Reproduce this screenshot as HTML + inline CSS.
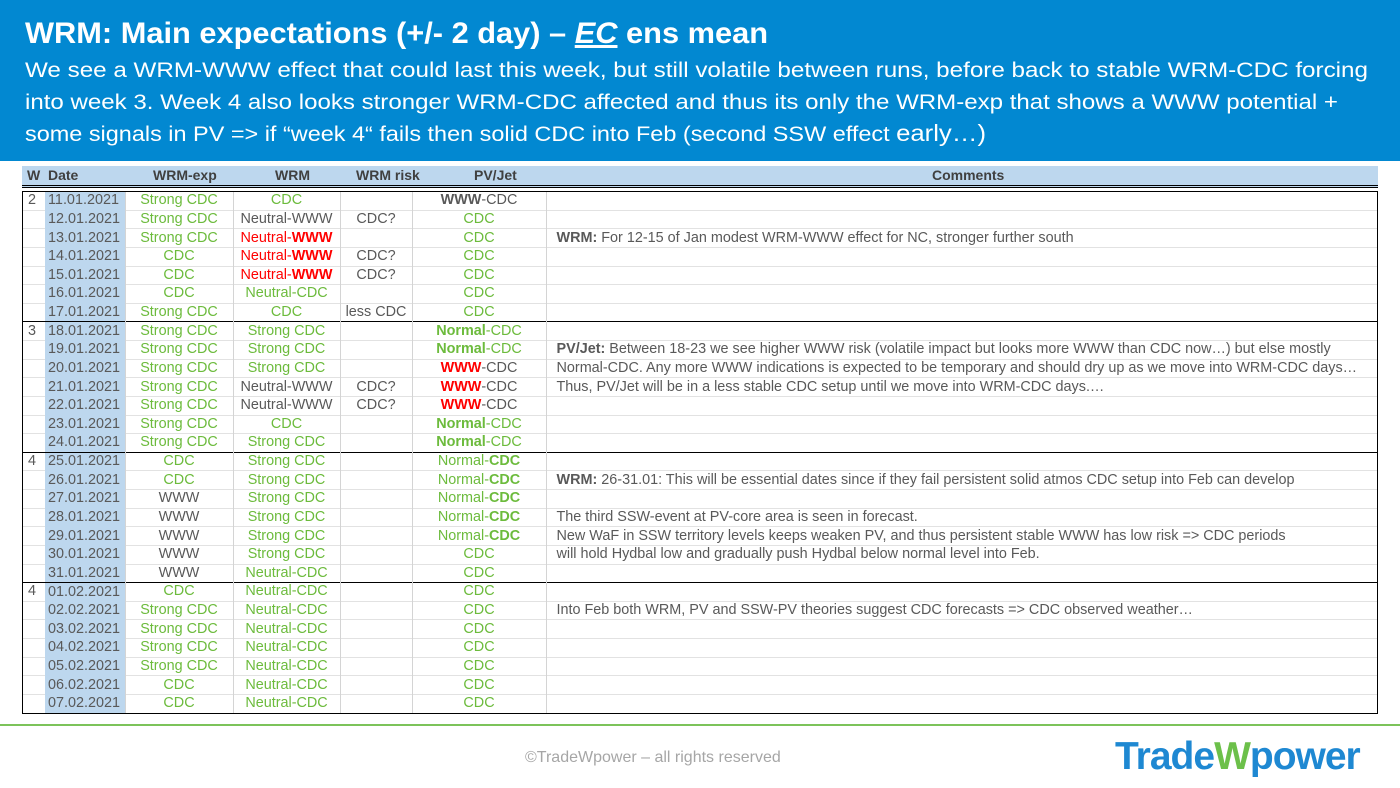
<!DOCTYPE html>
<html><head><meta charset="utf-8"><style>
body{margin:0;width:1400px;height:788px;background:#fff;position:relative;overflow:hidden;font-family:"Liberation Sans",Arial,sans-serif}
.hdr{position:absolute;left:0;top:0;width:1400px;height:161px;background:#0288d1}
table{position:absolute;left:22px;top:191px;width:1356px;border-collapse:collapse;font-size:14.4px;color:#595959;table-layout:fixed}
td{height:17.64px;padding:0;border-left:1px solid #d4d4d4;border-top:1px solid #e2e2e2;text-align:center;white-space:nowrap;overflow:hidden;line-height:17px}
td.w{border-left:none;text-align:left;padding-left:6px}
td.d{background:#bdd7ee;text-align:left;padding-left:3px;border-left:none;border-top:none}
td.c{text-align:left;padding-left:10px}
tr.s td{border-top:1.5px solid #000}
.g{color:#6cbb3c}.r{color:#f00}
b{font-weight:bold}
.th{position:absolute;left:22px;top:166px;width:1356px;height:19px;background:#bdd7ee;border-bottom:3px double #000;font-size:14px;font-weight:bold;color:#404040}
.th span{position:absolute;top:1px}
.box{position:absolute;left:22px;top:191px;width:1354px;height:521px;border:1px solid #000;pointer-events:none}
</style></head><body>
<div class="hdr"></div>
<svg style="position:absolute;left:0;top:0" width="1400" height="161">
<g fill="#fff" font-family="Liberation Sans,Arial,sans-serif">
<text x="25" y="43" font-size="30" font-weight="bold" textLength="743" lengthAdjust="spacingAndGlyphs">WRM: Main expectations (+/- 2 day) – <tspan font-style="italic" text-decoration="underline">EC</tspan> ens mean</text>
<text x="25" y="77" font-size="21" textLength="1343" lengthAdjust="spacingAndGlyphs">We see a WRM-WWW effect that could last this week, but still volatile between runs, before back to stable WRM-CDC forcing</text>
<text x="25" y="109" font-size="21" textLength="1313" lengthAdjust="spacingAndGlyphs">into week 3. Week 4 also looks stronger WRM-CDC affected and thus its only the WRM-exp that shows a WWW potential +</text>
<text x="25" y="141" font-size="21" textLength="961" lengthAdjust="spacingAndGlyphs">some signals in PV => if “week 4“ fails then solid CDC into Feb (second SSW effect <tspan font-size="23">early…)</tspan></text>
</g></svg>
<div class="th"><span style="left:5px">W</span><span style="left:26px">Date</span><span style="left:131px">WRM-exp</span><span style="left:253px">WRM</span><span style="left:334px">WRM risk</span><span style="left:452px">PV/Jet</span><span style="left:910px">Comments</span></div>
<table>
<colgroup><col style="width:23px"><col style="width:80px"><col style="width:108px"><col style="width:107px"><col style="width:72px"><col style="width:134px"><col></colgroup>
<tr style="border-top:none"><td class="w">2</td><td class="d">11.01.2021</td><td class="g">Strong CDC</td><td class="g">CDC</td><td></td><td><b>WWW</b>-CDC</td><td class="c"></td></tr>
<tr><td class="w"></td><td class="d">12.01.2021</td><td class="g">Strong CDC</td><td>Neutral-WWW</td><td>CDC?</td><td class="g">CDC</td><td class="c"></td></tr>
<tr><td class="w"></td><td class="d">13.01.2021</td><td class="g">Strong CDC</td><td class="r">Neutral-<b>WWW</b></td><td></td><td class="g">CDC</td><td class="c"><b>WRM:</b> For 12-15 of Jan modest WRM-WWW effect for NC, stronger further south</td></tr>
<tr><td class="w"></td><td class="d">14.01.2021</td><td class="g">CDC</td><td class="r">Neutral-<b>WWW</b></td><td>CDC?</td><td class="g">CDC</td><td class="c"></td></tr>
<tr><td class="w"></td><td class="d">15.01.2021</td><td class="g">CDC</td><td class="r">Neutral-<b>WWW</b></td><td>CDC?</td><td class="g">CDC</td><td class="c"></td></tr>
<tr><td class="w"></td><td class="d">16.01.2021</td><td class="g">CDC</td><td class="g">Neutral-CDC</td><td></td><td class="g">CDC</td><td class="c"></td></tr>
<tr><td class="w"></td><td class="d">17.01.2021</td><td class="g">Strong CDC</td><td class="g">CDC</td><td>less CDC</td><td class="g">CDC</td><td class="c"></td></tr>
<tr class="s"><td class="w">3</td><td class="d">18.01.2021</td><td class="g">Strong CDC</td><td class="g">Strong CDC</td><td></td><td class="g"><b>Normal</b>-CDC</td><td class="c"></td></tr>
<tr><td class="w"></td><td class="d">19.01.2021</td><td class="g">Strong CDC</td><td class="g">Strong CDC</td><td></td><td class="g"><b>Normal</b>-CDC</td><td class="c"><b>PV/Jet:</b> Between 18-23 we see higher WWW risk (volatile impact but looks more WWW than CDC now…) but else mostly</td></tr>
<tr><td class="w"></td><td class="d">20.01.2021</td><td class="g">Strong CDC</td><td class="g">Strong CDC</td><td></td><td><b class="r">WWW</b>-CDC</td><td class="c">Normal-CDC. Any more WWW indications is expected to be temporary and should dry up as we move into WRM-CDC days…</td></tr>
<tr><td class="w"></td><td class="d">21.01.2021</td><td class="g">Strong CDC</td><td>Neutral-WWW</td><td>CDC?</td><td><b class="r">WWW</b>-CDC</td><td class="c">Thus, PV/Jet will be in a less stable CDC setup until we move into WRM-CDC days.…</td></tr>
<tr><td class="w"></td><td class="d">22.01.2021</td><td class="g">Strong CDC</td><td>Neutral-WWW</td><td>CDC?</td><td><b class="r">WWW</b>-CDC</td><td class="c"></td></tr>
<tr><td class="w"></td><td class="d">23.01.2021</td><td class="g">Strong CDC</td><td class="g">CDC</td><td></td><td class="g"><b>Normal</b>-CDC</td><td class="c"></td></tr>
<tr><td class="w"></td><td class="d">24.01.2021</td><td class="g">Strong CDC</td><td class="g">Strong CDC</td><td></td><td class="g"><b>Normal</b>-CDC</td><td class="c"></td></tr>
<tr class="s"><td class="w">4</td><td class="d">25.01.2021</td><td class="g">CDC</td><td class="g">Strong CDC</td><td></td><td class="g">Normal-<b>CDC</b></td><td class="c"></td></tr>
<tr><td class="w"></td><td class="d">26.01.2021</td><td class="g">CDC</td><td class="g">Strong CDC</td><td></td><td class="g">Normal-<b>CDC</b></td><td class="c"><b>WRM:</b> 26-31.01: This will be essential dates since if they fail persistent solid atmos CDC setup into Feb can develop</td></tr>
<tr><td class="w"></td><td class="d">27.01.2021</td><td>WWW</td><td class="g">Strong CDC</td><td></td><td class="g">Normal-<b>CDC</b></td><td class="c"></td></tr>
<tr><td class="w"></td><td class="d">28.01.2021</td><td>WWW</td><td class="g">Strong CDC</td><td></td><td class="g">Normal-<b>CDC</b></td><td class="c">The third SSW-event at PV-core area is seen in forecast.</td></tr>
<tr><td class="w"></td><td class="d">29.01.2021</td><td>WWW</td><td class="g">Strong CDC</td><td></td><td class="g">Normal-<b>CDC</b></td><td class="c">New WaF in SSW territory levels keeps weaken PV, and thus persistent stable WWW has low risk => CDC periods</td></tr>
<tr><td class="w"></td><td class="d">30.01.2021</td><td>WWW</td><td class="g">Strong CDC</td><td></td><td class="g">CDC</td><td class="c">will hold Hydbal low and gradually push Hydbal below normal level into Feb.</td></tr>
<tr><td class="w"></td><td class="d">31.01.2021</td><td>WWW</td><td class="g">Neutral-CDC</td><td></td><td class="g">CDC</td><td class="c"></td></tr>
<tr class="s"><td class="w">4</td><td class="d">01.02.2021</td><td class="g">CDC</td><td class="g">Neutral-CDC</td><td></td><td class="g">CDC</td><td class="c"></td></tr>
<tr><td class="w"></td><td class="d">02.02.2021</td><td class="g">Strong CDC</td><td class="g">Neutral-CDC</td><td></td><td class="g">CDC</td><td class="c">Into Feb both WRM, PV and SSW-PV theories suggest CDC forecasts => CDC observed weather…</td></tr>
<tr><td class="w"></td><td class="d">03.02.2021</td><td class="g">Strong CDC</td><td class="g">Neutral-CDC</td><td></td><td class="g">CDC</td><td class="c"></td></tr>
<tr><td class="w"></td><td class="d">04.02.2021</td><td class="g">Strong CDC</td><td class="g">Neutral-CDC</td><td></td><td class="g">CDC</td><td class="c"></td></tr>
<tr><td class="w"></td><td class="d">05.02.2021</td><td class="g">Strong CDC</td><td class="g">Neutral-CDC</td><td></td><td class="g">CDC</td><td class="c"></td></tr>
<tr><td class="w"></td><td class="d">06.02.2021</td><td class="g">CDC</td><td class="g">Neutral-CDC</td><td></td><td class="g">CDC</td><td class="c"></td></tr>
<tr><td class="w"></td><td class="d">07.02.2021</td><td class="g">CDC</td><td class="g">Neutral-CDC</td><td></td><td class="g">CDC</td><td class="c"></td></tr>
</table>
<div class="box"></div>
<div style="position:absolute;left:0;top:724px;width:1400px;height:2px;background:#7cc35a"></div>
<div style="position:absolute;left:525px;top:749px;font-size:16px;color:#a6a6a6">©TradeWpower – all rights reserved</div>
<div style="position:absolute;left:1115px;top:735px;font-size:39px;font-weight:bold;color:#1e88d2;letter-spacing:-1px">Trade<span style="color:#6cc04a">W</span>power</div>
</body></html>
